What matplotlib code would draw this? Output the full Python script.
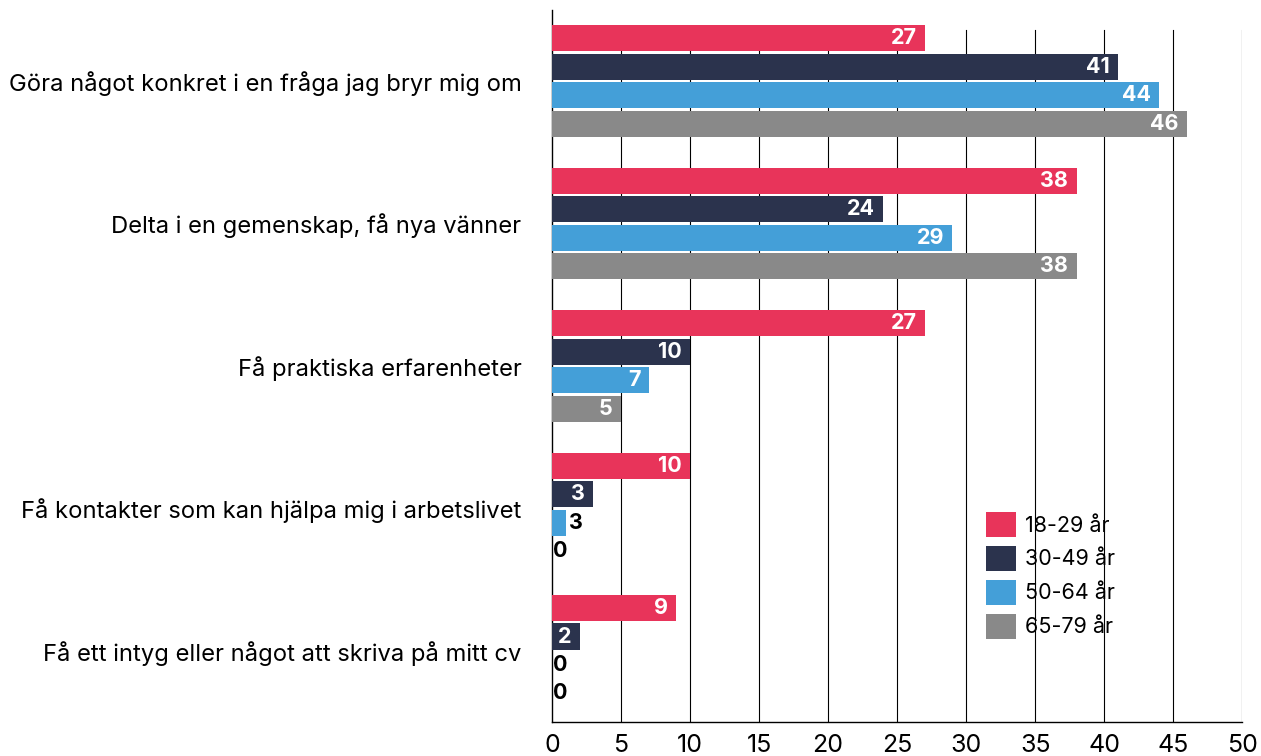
import numpy as np
import matplotlib
matplotlib.use("Agg")
import matplotlib.pyplot as plt
from matplotlib.patches import Patch

plt.rcParams['font.family'] = ['Inter', 'DejaVu Sans']

# data
categories = [
    "Göra något konkret i en fråga jag bryr mig om",
    "Delta i en gemenskap, få nya vänner",
    "Få praktiska erfarenheter",
    "Få kontakter som kan hjälpa mig i arbetslivet",
    "Få ett intyg eller något att skriva på mitt cv",
]
groups = ["18-29 år", "30-49 år", "50-64 år", "65-79 år"]
colors = ["#E8345A", "#2B334D", "#449FD8", "#898989"]

# bar lengths as drawn
v_18_29 = [27, 38, 27, 10, 9]
v_30_49 = [41, 24, 10, 3, 2]
v_50_64 = [44, 29, 7, 1, 0]
v_65_79 = [46, 38, 5, 0, 0]
# labels as printed
l_18_29 = ["27", "38", "27", "10", "9"]
l_30_49 = ["41", "24", "10", "3", "2"]
l_50_64 = ["44", "29", "7", "3", "0"]
l_65_79 = ["46", "38", "5", "0", "0"]

series = [v_18_29, v_30_49, v_50_64, v_65_79]
labels = [l_18_29, l_30_49, l_50_64, l_65_79]
xticks = list(range(0, 55, 5))

fig = plt.figure(figsize=(12.61, 7.56), dpi=100)
ax = fig.add_axes([0.4377, 0.045, 0.5475, 0.942])

y = np.arange(len(categories))
step = 0.2
h = 0.183
for i, (vals, labs) in enumerate(zip(series, labels)):
    pos = y - 0.3 + i * step
    ax.barh(pos, vals, height=h, color=colors[i], linewidth=0, zorder=3)
    for p, v, t in zip(pos, vals, labs):
        if v >= 2:
            ax.text(v - 0.6, p, t, ha="right", va="center", color="white",
                    fontsize=15.5, fontweight="bold", zorder=4)
        else:
            ax.text(v + 0.25 if v > 0 else 0.05, p, t, ha="left", va="center",
                    color="black", fontsize=15.5, fontweight="bold", zorder=4)

ax.set_xlim(0, 50)
ax.set_ylim(len(categories) - 0.5, -0.5)
ax.set_yticks(y)
ax.set_yticklabels(categories, fontsize=17.1)
ax.tick_params(axis="y", length=0, pad=22)
ax.set_xticks(xticks)
ax.set_xticklabels([str(t) for t in xticks], fontsize=18)
ax.tick_params(axis="x", length=0, pad=9)

for t in xticks[1:]:
    ax.axvline(t, ymin=0, ymax=0.972, color="black", linewidth=0.8, zorder=1)

for s in ["top", "right"]:
    ax.spines[s].set_visible(False)
ax.spines["left"].set_linewidth(1.0)
ax.spines["bottom"].set_linewidth(1.0)

handles = [Patch(facecolor=c, edgecolor="none", label=g) for c, g in zip(colors, groups)]
ax.legend(handles=handles, loc="lower left", bbox_to_anchor=(0.6, 0.09),
          frameon=False, fontsize=15.5, handlelength=1.4, handleheight=1.4,
          labelspacing=0.42, handletextpad=0.45)

fig.savefig("out.png", dpi=100)
